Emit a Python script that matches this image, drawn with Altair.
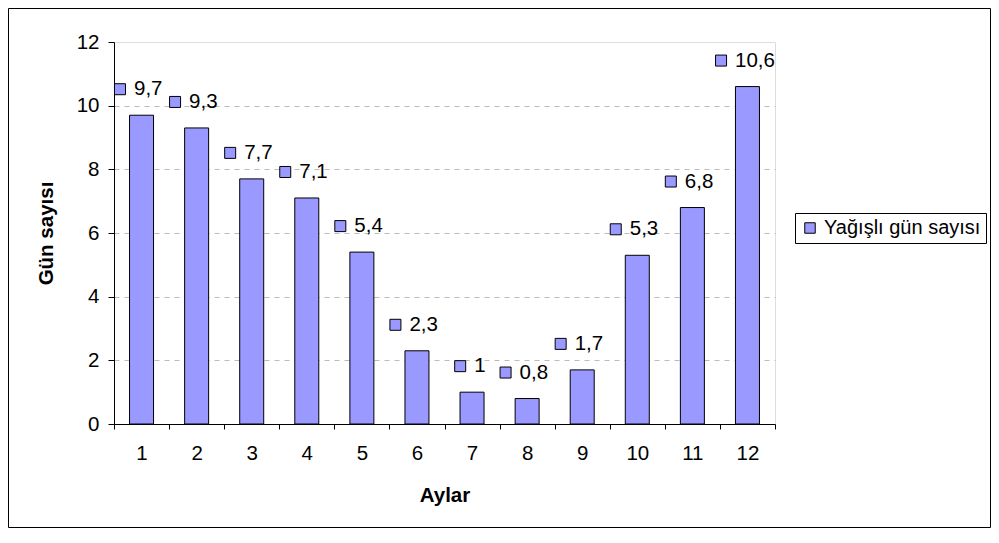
import altair as alt
import pandas as pd

months = [str(m) for m in range(1, 13)]
values = [9.7, 9.3, 7.7, 7.1, 5.4, 2.3, 1.0, 0.8, 1.7, 5.3, 6.8, 10.6]
series_name = "Yağışlı gün sayısı"
y_ticks = [0, 2, 4, 6, 8, 10, 12]


def fmt(v):
    s = ("%g" % v).replace(".", ",")
    return s


df = pd.DataFrame({
    "month": months,
    "value": values,
    "label": [fmt(v) for v in values],
    "series": [series_name] * len(values),
})

FONT = "Liberation Sans"
FS = 20.5
BAR = "#9999FF"
W, H = 661, 382

x_enc = alt.X("month:N", sort=months, title="Aylar",
              scale=alt.Scale(paddingInner=0, paddingOuter=0),
              axis=alt.Axis(labelAngle=0, tickBand="extent", tickSize=5,
                            labelPadding=14, titlePadding=22,
                            domainColor="black", tickColor="black",
                            labelColor="black", labelFontSize=FS,
                            titleFontSize=FS, titleFontWeight="bold",
                            labelFont=FONT, titleFont=FONT))
y_enc = alt.Y("value:Q", title="Gün sayısı",
              scale=alt.Scale(domain=[0, 12], nice=False),
              axis=alt.Axis(values=y_ticks, tickSize=6, labelPadding=9,
                            titlePadding=20,
                            domainColor="black", tickColor="black",
                            labelColor="black", labelFontSize=FS,
                            titleFontSize=FS, titleFontWeight="bold",
                            labelFont=FONT, titleFont=FONT,
                            grid=True, gridColor="#BBBBBB",
                            gridDash=[5, 5],
                            gridOpacity=alt.condition(
                                "datum.value == 0 || datum.value == 12",
                                alt.value(0), alt.value(1))))

base = alt.Chart(df)

bars = base.mark_bar(size=24, stroke="black", strokeWidth=1).encode(
    x=x_enc,
    y=y_enc,
    color=alt.Color("series:N",
                    scale=alt.Scale(domain=[series_name], range=[BAR]),
                    legend=alt.Legend(title=None, orient="none",
                                      legendX=681, legendY=171,
                                      symbolType="square", symbolSize=110,
                                      symbolStrokeColor="black",
                                      symbolStrokeWidth=1,
                                      strokeColor="black", padding=5,
                                      labelFontSize=20, labelFont=FONT,
                                      labelColor="black", labelLimit=400,
                                      symbolOffset=0)),
)

keys = base.mark_point(shape="square", size=121, filled=True, fill=BAR,
                       stroke="black", strokeWidth=1, opacity=1,
                       yOffset=-26,
                       xOffset=alt.expr("-7 - length(datum.label) * 4.85")).encode(
    x=alt.X("month:N", sort=months),
    y=alt.Y("value:Q"),
)

texts = base.mark_text(align="left", baseline="middle", fontSize=FS,
                       font=FONT, color="black", dy=-26,
                       dx=alt.expr("7 - length(datum.label) * 4.85")).encode(
    x=alt.X("month:N", sort=months),
    y=alt.Y("value:Q"),
    text="label:N",
)

frame = alt.Chart(pd.DataFrame({"f": [0]})).mark_rect(
    fill=None, stroke="black", strokeWidth=1, clip=False).encode(
    x=alt.value(-105.5), x2=alt.value(W + 215.5),
    y=alt.value(-33.5), y2=alt.value(H + 103.5),
)

chart = alt.layer(frame, bars, keys, texts).properties(
    width=W, height=H,
    autosize=alt.AutoSizeParams(type="none"),
    padding={"left": 106, "top": 34, "right": 216, "bottom": 104},
).configure_view(stroke=None).configure(background="white")

chart.save("out.html", embed_options={"renderer": "svg", "actions": False})
